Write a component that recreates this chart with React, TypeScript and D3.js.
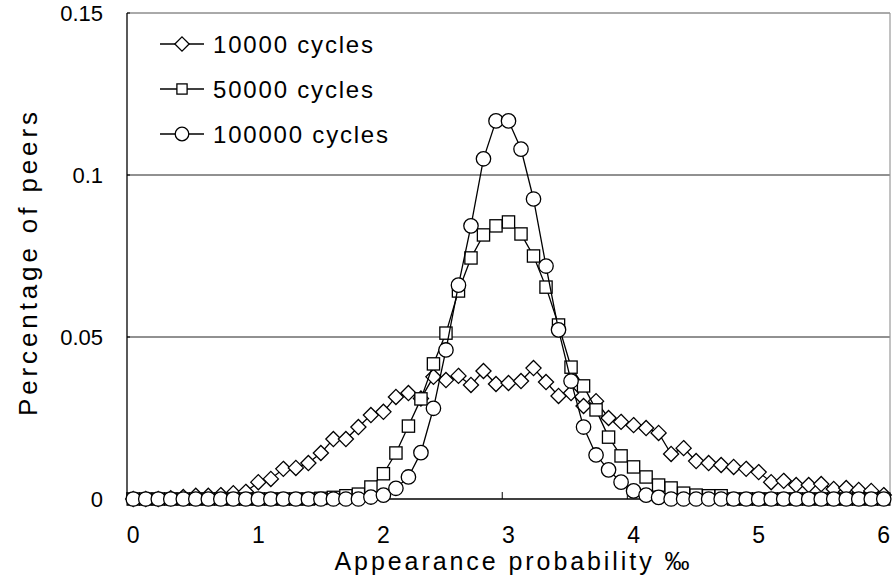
import React from 'react';
import * as d3 from 'd3';

const probabilities: number[] = d3.range(0, 61).map((i) => i / 10);

const cycles10000: number[] = [
  0, 0, 0, 0.0002, 0.0006, 0.001, 0.001, 0.0012, 0.0018, 0.0022,
  0.0052, 0.0062, 0.0093, 0.0096, 0.0111, 0.0142, 0.0185, 0.0185, 0.0222, 0.0259,
  0.0269, 0.0315, 0.0327, 0.031, 0.0377, 0.0367, 0.038, 0.0352, 0.0395, 0.0355,
  0.0358, 0.0364, 0.0404, 0.0361, 0.0318, 0.0327, 0.0287, 0.0302, 0.025, 0.0238,
  0.0228, 0.0219, 0.0204, 0.0139, 0.0157, 0.0117, 0.0111, 0.0105, 0.0099, 0.0093,
  0.0083, 0.0052, 0.0056, 0.0043, 0.0043, 0.0046, 0.0031, 0.0034, 0.0028, 0.0025,
  0.0012,
];

const cycles50000: number[] = [
  0, 0, 0, 0, 0, 0, 0, 0, 0, 0,
  0, 0, 0, 0, 0, 0.0002, 0.0005, 0.001, 0.0015, 0.0037,
  0.0078, 0.0142, 0.0225, 0.0309, 0.0417, 0.0512, 0.0642, 0.0744, 0.0815, 0.0843,
  0.0855, 0.0818, 0.075, 0.0654, 0.0537, 0.0407, 0.0349, 0.0275, 0.0191, 0.0133,
  0.0099, 0.0068, 0.0043, 0.0034, 0.0018, 0.0012, 0.001, 0.001, 0, 0,
  0, 0, 0, 0, 0, 0, 0, 0, 0, 0,
  0,
];

const cycles100000: number[] = [
  0, 0, 0, 0, 0, 0, 0, 0, 0, 0,
  0, 0, 0, 0, 0, 0, 0, 0, 0, 0.0006,
  0.0012, 0.0033, 0.0068, 0.0143, 0.028, 0.046, 0.066, 0.0843, 0.105, 0.1167,
  0.1167, 0.108, 0.0926, 0.0719, 0.0522, 0.0364, 0.0222, 0.0136, 0.009, 0.0052,
  0.0025, 0.0012, 0.0005, 0, 0, 0, 0, 0, 0, 0,
  0, 0, 0, 0, 0, 0, 0, 0, 0, 0,
  0,
];

const seriesNames: string[] = ['10000 cycles', '50000 cycles', '100000 cycles'];
const seriesMarkers: string[] = ['diamond', 'square', 'circle'];
const xTickValues: number[] = [0, 1, 2, 3, 4, 5, 6];
const yTickValues: number[] = [0, 0.05, 0.1, 0.15];
const yTickLabels: string[] = ['0', '0.05', '0.1', '0.15'];
const xTitle = 'Appearance probability ‰';
const yTitle = 'Percentage of peers';

const W = 895;
const H = 584;
const plot = { left: 127, right: 890, top: 13, bottom: 499 };
const FONT = "'Liberation Sans', Arial, sans-serif";

function Marker({ type, x, y, size }: { type: string; x: number; y: number; size: number }) {
  const common = { fill: '#fff', stroke: '#000', strokeWidth: 1.3 };
  if (type === 'circle') return <circle cx={x} cy={y} r={size} {...common} />;
  if (type === 'square') {
    const s = size * 0.85;
    return <rect x={x - s} y={y - s} width={2 * s} height={2 * s} {...common} />;
  }
  const d = size * 1.05;
  return <path d={`M${x},${y - d}L${x + d},${y}L${x},${y + d}L${x - d},${y}Z`} {...common} />;
}

export default function App() {
  const band = d3
    .scaleBand<number>()
    .domain(probabilities.map((_, i) => i))
    .range([plot.left, plot.right])
    .paddingInner(0)
    .paddingOuter(0);
  const xPos = (i: number) => (band(i) as number) + band.bandwidth() / 2;
  const y = d3.scaleLinear().domain([0, 0.15]).range([plot.bottom, plot.top]);

  const seriesData = [cycles10000, cycles50000, cycles100000];
  const line = d3
    .line<number>()
    .x((_, i) => xPos(i))
    .y((d) => y(d));

  const tickIndex = (v: number) => probabilities.findIndex((p) => Math.abs(p - v) < 1e-9);

  return (
    <svg
      width={W}
      height={H}
      style={{ position: 'absolute', left: 0, top: 0, background: '#fff' }}
      fontFamily={FONT}
    >
      <rect x={0} y={0} width={W} height={H} fill="#fff" />
      {/* gridlines */}
      {yTickValues
        .filter((v) => v > 0 && v < 0.15)
        .map((v) => (
          <line key={v} x1={plot.left} x2={plot.right} y1={y(v)} y2={y(v)} stroke="#222" strokeWidth={1} />
        ))}
      {/* top & right border */}
      <line x1={plot.left} x2={plot.right} y1={y(0.15)} y2={y(0.15)} stroke="#555" strokeWidth={1} />
      <line x1={plot.right} x2={plot.right} y1={y(0.15)} y2={y(0)} stroke="#999" strokeWidth={1.2} />
      {/* axes */}
      <line x1={plot.left} x2={plot.left} y1={y(0.15)} y2={y(0)} stroke="#000" strokeWidth={1.3} />
      <line x1={plot.left} x2={plot.right} y1={y(0)} y2={y(0)} stroke="#000" strokeWidth={1.3} />
      {/* x tick marks at category boundaries */}
      {xTickValues.map((v) => {
        const i = tickIndex(v);
        const bx = band(i) as number;
        return <line key={v} x1={bx} x2={bx} y1={y(0)} y2={y(0) - 7} stroke="#000" strokeWidth={1} />;
      })}
      {/* y tick marks */}
      {yTickValues.map((v) => (
        <line key={v} x1={plot.left} x2={plot.left + 3} y1={y(v)} y2={y(v)} stroke="#000" strokeWidth={1} />
      ))}
      {/* y tick labels */}
      {yTickValues.map((v, k) => (
        <text key={v} x={103} y={y(v)} dy="0.36em" textAnchor="end" fontSize={22} fill="#000">
          {yTickLabels[k]}
        </text>
      ))}
      {/* x tick labels */}
      {xTickValues.map((v) => (
        <text key={v} x={xPos(tickIndex(v))} y={543} textAnchor="middle" fontSize={23} fill="#000">
          {String(v)}
        </text>
      ))}
      {/* series */}
      {seriesData.map((data, s) => (
        <g key={s}>
          <path d={line(data) as string} fill="none" stroke="#000" strokeWidth={1.3} />
          {data.map((d, i) => (
            <Marker key={i} type={seriesMarkers[s]} x={xPos(i)} y={y(d)} size={7.2} />
          ))}
        </g>
      ))}
      {/* legend */}
      {seriesNames.map((name, s) => {
        const cy = 44 + s * 45;
        return (
          <g key={name}>
            <line x1={160} x2={204} y1={cy} y2={cy} stroke="#000" strokeWidth={1.3} />
            <Marker type={seriesMarkers[s]} x={182} y={cy} size={s === 1 ? 6 : 6.8} />
            <text
              x={213}
              y={cy + 9}
              fontSize={24}
              fill="#000"
              textLength={s === 2 ? 175 : 160}
              lengthAdjust="spacing"
            >
              {name}
            </text>
          </g>
        );
      })}
      {/* axis titles */}
      <text x={512} y={570} textAnchor="middle" fontSize={25} fill="#000" textLength={355} lengthAdjust="spacing">
        {xTitle}
      </text>
      <text
        transform={`translate(37,${264}) rotate(-90)`}
        textAnchor="middle"
        fontSize={26}
        fill="#000"
        textLength={304}
        lengthAdjust="spacing"
      >
        {yTitle}
      </text>
    </svg>
  );
}
